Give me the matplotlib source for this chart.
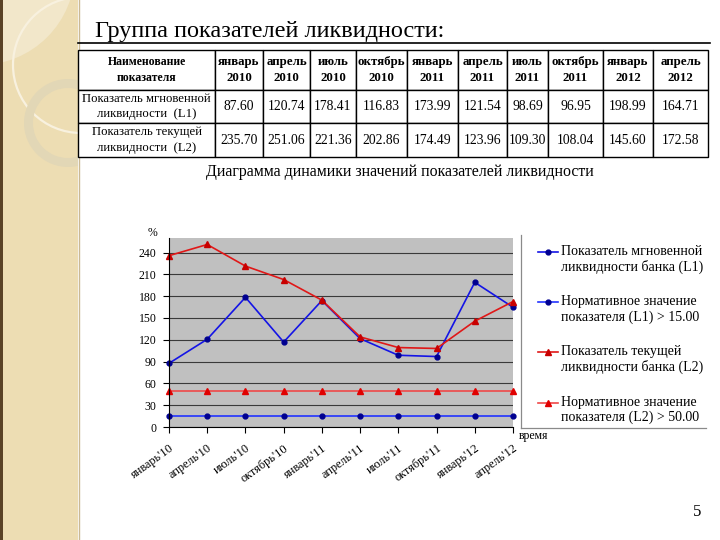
import matplotlib
matplotlib.use("Agg")
import matplotlib.pyplot as plt
from matplotlib.patches import Rectangle, Circle, Wedge

SERIF = ["Liberation Serif", "DejaVu Serif"]
plt.rcParams["font.family"] = SERIF

W, H = 720, 540

# --- data -------------------------------------------------------------
table_periods = ["январь\n2010", "апрель\n2010", "июль\n2010", "октябрь\n2010",
                 "январь\n2011", "апрель\n2011", "июль\n2011", "октябрь\n2011",
                 "январь\n2012", "апрель\n2012"]
axis_periods = ["январь'10", "апрель'10", "июль'10", "октябрь'10", "январь'11",
                "апрель'11", "июль'11", "октябрь'11", "январь'12", "апрель'12"]
l1 = [87.60, 120.74, 178.41, 116.83, 173.99, 121.54, 98.69, 96.95, 198.99, 164.71]
l2 = [235.70, 251.06, 221.36, 202.86, 174.49, 123.96, 109.30, 108.04, 145.60, 172.58]
l1_norm = 15.00
l2_norm = 50.00
y_ticks = [0, 30, 60, 90, 120, 150, 180, 210, 240]

row_names = ["Показатель мгновенной\nликвидности  (L1)",
             "Показатель текущей\nликвидности  (L2)"]
legend_labels = [
    "\nПоказатель мгновенной\nликвидности банка (L1)",
    "\nНормативное значение\nпоказателя (L1) > 15.00",
    "\nПоказатель текущей\nликвидности банка (L2)",
    "\nНормативное значение\nпоказателя (L2) > 50.00",
]


def box(x0, y0, x1, y1):
    """pixel box (top-left origin) -> figure fraction rect"""
    return [x0 / W, 1 - y1 / H, (x1 - x0) / W, (y1 - y0) / H]


fig = plt.figure(figsize=(W / 100, H / 100), dpi=100, facecolor="white")

# --- slide background -------------------------------------------------
bg = fig.add_axes([0, 0, 1, 1], zorder=0)
bg.set_xlim(0, W)
bg.set_ylim(H, 0)
bg.axis("off")

panel = Rectangle((0, 0), 78, H, facecolor="#EDDDB3", edgecolor="none")
bg.add_patch(panel)
for p in [Circle((-20, -30), 95, facecolor="#F2E7CA", edgecolor="none"),
          Circle((81, 65), 68, facecolor="none", edgecolor="#F8F1DF", lw=1.6),
          Wedge((68, 123), 44, 0, 360, width=9, facecolor="#E2D7B6", edgecolor="none")]:
    bg.add_patch(p)
    p.set_clip_path(panel)
bg.add_patch(Rectangle((0, 0), 2.5, H, facecolor="#5A4226", edgecolor="none"))
bg.plot([78.5, 78.5], [0, H], color="#CBB994", lw=1)

bg.text(95, 37, "Группа показателей ликвидности:", fontsize=17.5, va="baseline")
bg.plot([78, 710], [43, 43], color="black", lw=1.2)
bg.text(400, 172, "Диаграмма динамики значений показателей ликвидности",
        fontsize=11.4, ha="center", va="center")
bg.text(697, 512, "5", fontsize=12, ha="center", va="center")
bg.text(152, 233, "%", fontsize=8.5, ha="center", va="center")
bg.text(519, 436, "время", fontsize=8.5, ha="left", va="center")
bg.plot([521, 521], [235, 428], color="#8A8A8A", lw=0.9)
bg.plot([521, 706], [428, 428], color="#8A8A8A", lw=0.9)

# --- table ------------------------------------------------------------
col_edges = [78, 215, 263, 310, 356, 407, 458, 507, 548, 603, 653, 708]
col_widths = [b - a for a, b in zip(col_edges[:-1], col_edges[1:])]
row_heights = [40, 33, 34]

cell_text = [["Наименование\nпоказателя"] + table_periods,
             [row_names[0]] + [f"{v:.2f}" for v in l1],
             [row_names[1]] + [f"{v:.2f}" for v in l2]]

tax = fig.add_axes(box(78, 50, 708, 157), zorder=1)
tax.axis("off")
tbl = tax.table(cellText=cell_text, colWidths=col_widths, cellLoc="center",
                bbox=[0, 0, 1, 1])
tbl.auto_set_font_size(False)
for (r, c), cell in tbl.get_celld().items():
    cell.set_height(row_heights[r])
    cell.set_edgecolor("black")
    cell.set_linewidth(1.0)
    cell.set_facecolor("white")
    t = cell.get_text()
    t.set_fontfamily(SERIF)
    t.set_linespacing(1.35)
    if r == 0:
        t.set_fontweight("bold")
        t.set_fontsize(8.5 if c == 0 else 9.3)
    elif c == 0:
        t.set_fontsize(9.2)
    else:
        t.set_fontsize(9.8)

# --- chart ------------------------------------------------------------
ax = fig.add_axes(box(169, 238, 513, 427), zorder=2)
x = list(range(len(axis_periods)))
n = len(x)

ax.plot(x, l1, color="#1414E6", lw=1.2, marker="o", ms=3.5,
        mfc="#000090", mec="#000090", clip_on=False)
ax.plot(x, [l1_norm] * n, color="#2233FF", lw=1.2, marker="o", ms=3.5,
        mfc="#000090", mec="#000090", clip_on=False)
ax.plot(x, l2, color="#E01818", lw=1.2, marker="^", ms=5,
        mfc="#C80000", mec="#C80000", clip_on=False)
ax.plot(x, [l2_norm] * n, color="#F04848", lw=1.2, marker="^", ms=5,
        mfc="#E00000", mec="#E00000", clip_on=False)

ax.set_facecolor("#C0C0C0")
ax.set_xlim(0, n - 1)
ax.set_ylim(0, 260)
ax.set_yticks(y_ticks)
ax.set_yticklabels([str(v) for v in y_ticks], fontsize=8.5)
ax.set_xticks(x)
ax.set_xticklabels(axis_periods, rotation=36, ha="right",
                   rotation_mode="anchor", fontsize=8.8)
ax.tick_params(axis="both", direction="out", length=4, width=0.8, color="black")
ax.tick_params(axis="x", pad=7)
ax.tick_params(axis="y", pad=5)
ax.yaxis.grid(True, color="#3A3A3A", lw=0.8)
ax.set_axisbelow(True)
for side in ["top", "right"]:
    ax.spines[side].set_visible(False)
for side in ["left", "bottom"]:
    ax.spines[side].set_color("black")
    ax.spines[side].set_linewidth(0.8)

fig.legend(ax.get_lines(), legend_labels, loc="center left",
           bbox_to_anchor=(538 / W, 1 - 327 / H), frameon=False, fontsize=10,
           handlelength=1.45, handletextpad=0.2, labelspacing=0.45,
           borderpad=0, borderaxespad=0)

fig.savefig("out.png", dpi=100, facecolor="white")
plt.close(fig)
